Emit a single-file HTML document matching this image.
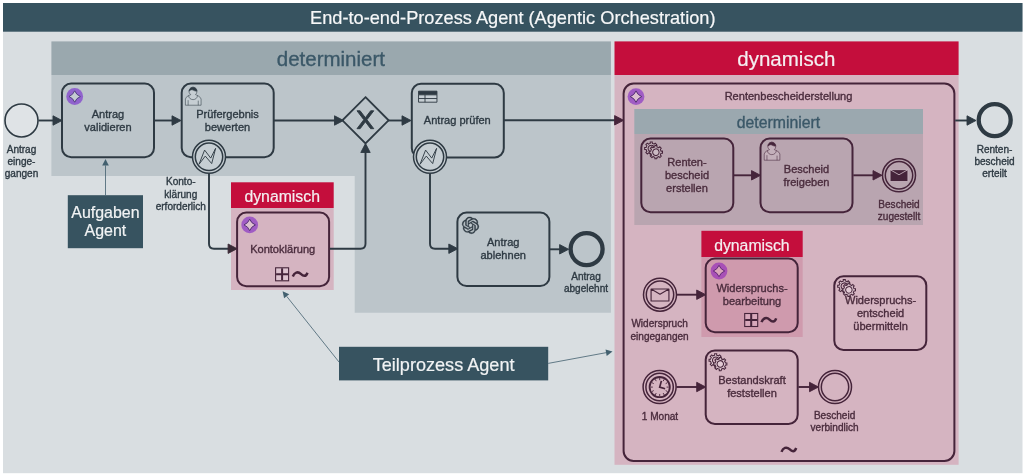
<!DOCTYPE html>
<html lang="de">
<head>
<meta charset="utf-8">
<title>End-to-end-Prozess Agent (Agentic Orchestration)</title>
<style>
html,body{margin:0;padding:0;background:#ffffff;}
body{width:1024px;height:474px;overflow:hidden;}
svg{display:block;will-change:transform;}
</style>
</head>
<body>
<svg width="1024" height="474" viewBox="0 0 1024 474" font-family="'Liberation Sans', sans-serif">
<rect x="0" y="0" width="1024" height="474" fill="#ffffff"/>
<rect x="3" y="3" width="1019.5" height="470.2" fill="#d9dee1"/>
<rect x="3" y="3" width="1019.5" height="28.7" fill="#375360"/>
<text x="512.8" y="23.8" font-size="18.2" fill="#f6f7f8" stroke="#f6f7f8" stroke-width="0.2" text-anchor="middle">End-to-end-Prozess Agent (Agentic Orchestration)</text>
<rect x="51.4" y="41.4" width="559.5" height="33.6" fill="#9aa8ae"/>
<path d="M51.4,75 H610.9 V312.7 H354.7 V176 H51.4 Z" fill="#bcc5ca"/>
<text x="330.9" y="65.7" font-size="20.5" fill="#3b5868" stroke="#3b5868" stroke-width="0.35" text-anchor="middle">determiniert</text>
<rect x="614.5" y="41.4" width="344.1" height="33.6" fill="#c40e3c"/>
<rect x="614.5" y="75" width="344.1" height="389.8" fill="#d5b4c1"/>
<text x="786.3" y="65.8" font-size="20.5" fill="#f4eff1" stroke="#f4eff1" stroke-width="0.2" text-anchor="middle">dynamisch</text>
<rect x="231" y="182.3" width="102.7" height="25.7" fill="#c40e3c"/>
<rect x="231" y="208" width="102.7" height="82" fill="#d5b4c1"/>
<text x="282.2" y="201.6" font-size="15.8" fill="#f4eff1" stroke="#f4eff1" stroke-width="0.2" text-anchor="middle">dynamisch</text>
<rect x="634.3" y="109" width="288.7" height="25" fill="#9ba8af"/>
<rect x="634.3" y="134" width="288.7" height="91" fill="#b9a5b0"/>
<text x="778.5" y="127.9" font-size="15.8" fill="#3b5868" stroke="#3b5868" stroke-width="0.35" text-anchor="middle">determiniert</text>
<rect x="701.4" y="230.8" width="101.3" height="26.2" fill="#c40e3c"/>
<rect x="701.4" y="257" width="101.3" height="80" fill="#cf9aad"/>
<text x="751.9" y="250.8" font-size="15.8" fill="#f4eff1" stroke="#f4eff1" stroke-width="0.2" text-anchor="middle">dynamisch</text>
<circle cx="21.5" cy="120.5" r="16.5" fill="#dfe3e6" stroke="#2e3a43" stroke-width="1.6"/>
<text x="21.5" y="153.218" font-size="10.05" fill="#2e3a43" stroke="#2e3a43" stroke-width="0.35" text-anchor="middle">Antrag</text>
<text x="21.5" y="165.418" font-size="10.05" fill="#2e3a43" stroke="#2e3a43" stroke-width="0.35" text-anchor="middle">einge-</text>
<text x="21.5" y="177.418" font-size="10.05" fill="#2e3a43" stroke="#2e3a43" stroke-width="0.35" text-anchor="middle">gangen</text>
<path d="M38.5,120.5 L53.9,120.5" fill="none" stroke="#2e3a43" stroke-width="1.9"/>
<path d="M62,120.5 L53,125.2 L53,115.8 Z" fill="#2e3a43" stroke="#2e3a43" stroke-width="0.9" stroke-linejoin="round"/>
<rect x="62" y="83.6" width="92" height="73.6" rx="9.2" fill="none" stroke="#2e3a43" stroke-width="2"/>
<circle cx="74.7" cy="96.5" r="8.4" fill="#9063cd"/>
<path d="M74.7,90.8 Q76.3,94.9 80.4,96.5 Q76.3,98.1 74.7,102.2 Q73.1,98.1 69,96.5 Q73.1,94.9 74.7,90.8 Z" fill="#c4cbd2" stroke="#4a3a78" stroke-width="0.9" stroke-linejoin="round"/>
<text x="108" y="117.678" font-size="11.05" fill="#2e3a43" stroke="#2e3a43" stroke-width="0.35" text-anchor="middle">Antrag</text>
<text x="108" y="130.678" font-size="11.05" fill="#2e3a43" stroke="#2e3a43" stroke-width="0.35" text-anchor="middle">validieren</text>
<path d="M154.6,120.5 L172.9,120.5" fill="none" stroke="#2e3a43" stroke-width="1.9"/>
<path d="M181,120.5 L172,125.2 L172,115.8 Z" fill="#2e3a43" stroke="#2e3a43" stroke-width="0.9" stroke-linejoin="round"/>
<rect x="181.7" y="83.6" width="92" height="73.6" rx="9.2" fill="none" stroke="#2e3a43" stroke-width="2"/>
<g transform="translate(181.7,83.6) scale(0.92)" stroke="#2e3a43" stroke-width="0.6" fill="#c6ced3"><path d="m 15,12 c 0.909,-0.845 1.594,-2.049 1.594,-3.385 0,-2.554 -1.805,-4.62199999 -4.357,-4.62199999 -2.55199998,0 -4.28799998,2.06799999 -4.28799998,4.62199999 0,1.348 0.974,2.562 1.89599998,3.405 -0.52899998,0.187 -5.669,2.097 -5.794,4.7560005 v 6.718 h 17 v -6.718 c 0,-2.2980005 -5.5279996,-4.5950005 -6.0509996,-4.7760005 zm -8,6 l 0,5.5 m 11,0 l 0,-5"/><path d="m 15,12 m 2.162,1.009 c 0,2.4470005 -2.158,4.4310005 -4.821,4.4310005 -2.66499998,0 -4.822,-1.981 -4.822,-4.4310005" fill="none"/><path d="m 15,12 m -6.9,-3.80 c 0,0 2.25099998,-2.358 4.27399998,-1.177 2.024,1.181 4.221,1.537 4.124,0.965 -0.098,-0.57 -0.117,-3.79099999 -4.191,-4.13599999 -3.57499998,0.001 -4.20799998,3.36699999 -4.20699998,4.34799999 z" fill="#2e3a43"/></g>
<text x="227.5" y="117.978" font-size="11.05" fill="#2e3a43" stroke="#2e3a43" stroke-width="0.35" text-anchor="middle">Prüfergebnis</text>
<text x="227.5" y="130.978" font-size="11.05" fill="#2e3a43" stroke="#2e3a43" stroke-width="0.35" text-anchor="middle">bewerten</text>
<circle cx="209" cy="156.8" r="16.5" fill="#c6ced3" stroke="#2e3a43" stroke-width="1.5"/>
<circle cx="209" cy="156.8" r="13.7" fill="#c6ced3" stroke="#2e3a43" stroke-width="1.5"/>
<path transform="translate(192.44,140.24) scale(0.92)" d="m 7.2,25.991999999999997 0.085,-0.023 6.672,-8.737 6.97,8.151 4.273,-16.564 -5.337,10.591 -6.636,-8.714 z" fill="#c6ced3" stroke="#2e3a43" stroke-width="1"/>
<text x="180.8" y="185.118" font-size="10.05" fill="#2e3a43" stroke="#2e3a43" stroke-width="0.35" text-anchor="middle">Konto-</text>
<text x="180.8" y="197.618" font-size="10.05" fill="#2e3a43" stroke="#2e3a43" stroke-width="0.35" text-anchor="middle">klärung</text>
<text x="180.8" y="209.818" font-size="10.05" fill="#2e3a43" stroke="#2e3a43" stroke-width="0.35" text-anchor="middle">erforderlich</text>
<path d="M273.8,120.5 L335.4,120.5" fill="none" stroke="#2e3a43" stroke-width="1.9"/>
<path d="M343.5,120.5 L334.5,125.2 L334.5,115.8 Z" fill="#2e3a43" stroke="#2e3a43" stroke-width="0.9" stroke-linejoin="round"/>
<path d="M209,173.5 L209,243.7 Q209,248.7 214,248.7 L229,248.7" fill="none" stroke="#2e3a43" stroke-width="1.9"/>
<path d="M237.1,248.7 L228.1,253.4 L228.1,244 Z" fill="#3a2a36" stroke="#3a2a36" stroke-width="0.9" stroke-linejoin="round"/>
<path d="M365.5,97.2 L388.6,120.3 L365.5,143.4 L342.4,120.3 Z" fill="none" stroke="#2e3a43" stroke-width="1.86" stroke-linejoin="miter"/>
<path transform="translate(342.25,97) scale(0.92)" d="m 16,15 7.43,9.71 -7.43,9.71 3.43,0 5.71,-7.46 5.71,7.46 3.43,0 -7.43,-9.71 7.43,-9.71 -3.43,0 -5.71,7.46 -5.71,-7.46 -3.43,0 z" fill="#2e3a43" stroke="#2e3a43" stroke-width="1"/>
<path d="M388,120.5 L402.9,120.5" fill="none" stroke="#2e3a43" stroke-width="1.9"/>
<path d="M411,120.5 L402,125.2 L402,115.8 Z" fill="#2e3a43" stroke="#2e3a43" stroke-width="0.9" stroke-linejoin="round"/>
<rect x="411.8" y="83.8" width="92" height="73.6" rx="9.2" fill="none" stroke="#2e3a43" stroke-width="2"/>
<g transform="translate(411.2,83.8) scale(0.92)" stroke="#2e3a43" stroke-width="1"><path d="m 8,8 0,4 20,0 0,-4 z" fill="#2e3a43"/><path d="m 8,12 0,8 20,0 0,-8 z m 0,4 l 20,0 m -13,-4 l 0,8" fill="#c6ced3"/></g>
<text x="457.3" y="124.278" font-size="11.05" fill="#2e3a43" stroke="#2e3a43" stroke-width="0.35" text-anchor="middle">Antrag prüfen</text>
<circle cx="430" cy="156.8" r="16.5" fill="#c6ced3" stroke="#2e3a43" stroke-width="1.5"/>
<circle cx="430" cy="156.8" r="13.7" fill="#c6ced3" stroke="#2e3a43" stroke-width="1.5"/>
<path transform="translate(413.44,140.24) scale(0.92)" d="m 7.2,25.991999999999997 0.085,-0.023 6.672,-8.737 6.97,8.151 4.273,-16.564 -5.337,10.591 -6.636,-8.714 z" fill="#c6ced3" stroke="#2e3a43" stroke-width="1"/>
<path d="M430,173.5 L430,243.7 Q430,248.7 435,248.7 L449.7,248.7" fill="none" stroke="#2e3a43" stroke-width="1.9"/>
<path d="M457.8,248.7 L448.8,253.4 L448.8,244 Z" fill="#2e3a43" stroke="#2e3a43" stroke-width="0.9" stroke-linejoin="round"/>
<path d="M504,120.3 L615.5,120.3" fill="none" stroke="#2e3a43" stroke-width="1.9"/>
<path d="M623.6,120.3 L614.6,125 L614.6,115.6 Z" fill="#45243a" stroke="#45243a" stroke-width="0.9" stroke-linejoin="round"/>
<rect x="457.4" y="212.5" width="92" height="73.6" rx="9.2" fill="none" stroke="#2e3a43" stroke-width="2"/>
<path transform="translate(462.1,216.9) scale(0.7)" d="M22.2819 9.8211a5.9847 5.9847 0 0 0-.5157-4.9108 6.0462 6.0462 0 0 0-6.5098-2.9A6.0651 6.0651 0 0 0 4.9807 4.1818a5.9847 5.9847 0 0 0-3.9977 2.9 6.0462 6.0462 0 0 0 .7427 7.0966 5.98 5.98 0 0 0 .511 4.9107 6.051 6.051 0 0 0 6.5146 2.9001A5.9847 5.9847 0 0 0 13.2599 24a6.0557 6.0557 0 0 0 5.7718-4.2058 5.9894 5.9894 0 0 0 3.9977-2.9001 6.0557 6.0557 0 0 0-.7475-7.0729zm-9.022 12.6081a4.4755 4.4755 0 0 1-2.8764-1.0408l.1419-.0804 4.7783-2.7582a.7948.7948 0 0 0 .3927-.6813v-6.7369l2.02 1.1686a.071.071 0 0 1 .038.052v5.5826a4.504 4.504 0 0 1-4.4945 4.4944zm-9.6607-4.1254a4.4708 4.4708 0 0 1-.5346-3.0137l.142.0852 4.783 2.7582a.7712.7712 0 0 0 .7806 0l5.8428-3.3685v2.3324a.0804.0804 0 0 1-.0332.0615L9.74 19.9502a4.4992 4.4992 0 0 1-6.1408-1.6464zM2.3408 7.8956a4.485 4.485 0 0 1 2.3655-1.9728V11.6a.7664.7664 0 0 0 .3879.6765l5.8144 3.3543-2.0201 1.1685a.0757.0757 0 0 1-.071 0l-4.8303-2.7865A4.504 4.504 0 0 1 2.3408 7.872zm16.5963 3.8558L13.1038 8.364 15.1192 7.2a.0757.0757 0 0 1 .071 0l4.8303 2.7913a4.4944 4.4944 0 0 1-.6765 8.1042v-5.6772a.79.79 0 0 0-.407-.667zm2.0107-3.0231l-.142-.0852-4.7735-2.7818a.7759.7759 0 0 0-.7854 0L9.409 9.2297V6.8974a.0662.0662 0 0 1 .0284-.0615l4.8303-2.7866a4.4992 4.4992 0 0 1 6.6802 4.66zM8.3065 12.863l-2.02-1.1638a.0804.0804 0 0 1-.038-.0567V6.0742a4.4992 4.4992 0 0 1 7.3757-3.4537l-.142.0805L8.704 5.459a.7948.7948 0 0 0-.3927.6813zm1.0976-2.3654l2.602-1.4998 2.6069 1.4998v2.9994l-2.5974 1.4997-2.6067-1.4997Z" fill="#2e3a43" stroke="#2e3a43" stroke-width="0.5"/>
<text x="503.2" y="245.978" font-size="11.05" fill="#2e3a43" stroke="#2e3a43" stroke-width="0.35" text-anchor="middle">Antrag</text>
<text x="503.2" y="258.978" font-size="11.05" fill="#2e3a43" stroke="#2e3a43" stroke-width="0.35" text-anchor="middle">ablehnen</text>
<path d="M549.4,249.3 L560.5,249.3" fill="none" stroke="#2e3a43" stroke-width="1.9"/>
<path d="M568.6,249.3 L559.6,254 L559.6,244.6 Z" fill="#2e3a43" stroke="#2e3a43" stroke-width="0.9" stroke-linejoin="round"/>
<circle cx="586.6" cy="249.1" r="16" fill="none" stroke="#2e3a43" stroke-width="4.3"/>
<text x="586" y="279.618" font-size="10.05" fill="#2e3a43" stroke="#2e3a43" stroke-width="0.35" text-anchor="middle">Antrag</text>
<text x="586" y="292.018" font-size="10.05" fill="#2e3a43" stroke="#2e3a43" stroke-width="0.35" text-anchor="middle">abgelehnt</text>
<rect x="237.1" y="212.6" width="92" height="73.6" rx="9.2" fill="none" stroke="#45243a" stroke-width="2"/>
<circle cx="249.7" cy="224.9" r="8.4" fill="#a05cc4"/>
<path d="M249.7,219.2 Q251.3,223.3 255.4,224.9 Q251.3,226.5 249.7,230.6 Q248.1,226.5 244,224.9 Q248.1,223.3 249.7,219.2 Z" fill="#dcc0d0" stroke="#4a2a6a" stroke-width="0.9" stroke-linejoin="round"/>
<text x="282.7" y="252.678" font-size="11.05" fill="#4a2c3d" stroke="#4a2c3d" stroke-width="0.35" text-anchor="middle">Kontoklärung</text>
<rect x="275.6" y="267.8" width="13" height="13" fill="#dcc2ce" stroke="#45243a" stroke-width="1.1"/>
<path d="M282.1,268.3 V280.3 M276.1,274.3 H288.1" stroke="#45243a" stroke-width="2" fill="none"/>
<path transform="translate(292.6,274.3)" d="M0.2,2.2 C1.7,-2 5.2,-3.2 8.2,-0.4 C10.7,2 13.2,2.8 14.9,-1.6" fill="none" stroke="#45243a" stroke-width="2.5"/>
<path d="M329.8,248.7 L360.5,248.7 Q365.5,248.7 365.5,243.7 L365.5,151.6" fill="none" stroke="#2e3a43" stroke-width="1.9"/>
<path d="M365.5,143.5 L370.2,152.5 L360.8,152.5 Z" fill="#2e3a43" stroke="#2e3a43" stroke-width="0.9" stroke-linejoin="round"/>
<rect x="67.8" y="195.2" width="75.2" height="53" fill="#375360"/>
<text x="105.4" y="218.142" font-size="15.95" fill="#f1f3f4" stroke="#f1f3f4" stroke-width="0.2" text-anchor="middle">Aufgaben</text>
<text x="105.4" y="236.442" font-size="15.95" fill="#f1f3f4" stroke="#f1f3f4" stroke-width="0.2" text-anchor="middle">Agent</text>
<path d="M105.5,195.2 L105.5,165.4" fill="none" stroke="#42606f" stroke-width="0.8"/>
<path d="M105.5,158.9 L108.8,165.4 L102.2,165.4 Z" fill="#42606f"/>
<rect x="339" y="346.8" width="209.2" height="33.6" fill="#375360"/>
<text x="443.6" y="370.516" font-size="18.1" fill="#f1f3f4" stroke="#f1f3f4" stroke-width="0.2" text-anchor="middle">Teilprozess Agent</text>
<path d="M339,362 L286.65,296.284" fill="none" stroke="#42606f" stroke-width="0.8"/>
<path d="M282.6,291.2 L289.231,294.228 L284.069,298.34 Z" fill="#42606f"/>
<path d="M548.2,363.4 L606.109,352.683" fill="none" stroke="#42606f" stroke-width="0.8"/>
<path d="M612.5,351.5 L606.709,355.928 L605.508,349.438 Z" fill="#42606f"/>
<rect x="623.6" y="83.6" width="330.8" height="377.3" rx="10" fill="none" stroke="#45243a" stroke-width="2"/>
<circle cx="636" cy="96.6" r="8.4" fill="#a05cc4"/>
<path d="M636,90.9 Q637.6,95 641.7,96.6 Q637.6,98.2 636,102.3 Q634.4,98.2 630.3,96.6 Q634.4,95 636,90.9 Z" fill="#dcc0d0" stroke="#4a2a6a" stroke-width="0.9" stroke-linejoin="round"/>
<text x="788.5" y="100.378" font-size="11.05" fill="#4a2c3d" stroke="#4a2c3d" stroke-width="0.35" text-anchor="middle">Rentenbescheiderstellung</text>
<path d="M955.2,120.5 L967.9,120.5" fill="none" stroke="#2e3a43" stroke-width="1.9"/>
<path d="M976,120.5 L967,125.2 L967,115.8 Z" fill="#2e3a43" stroke="#2e3a43" stroke-width="0.9" stroke-linejoin="round"/>
<circle cx="994.7" cy="120.1" r="16" fill="none" stroke="#2e3a43" stroke-width="4.3"/>
<text x="994.5" y="153.218" font-size="10.05" fill="#2e3a43" stroke="#2e3a43" stroke-width="0.35" text-anchor="middle">Renten-</text>
<text x="994.5" y="165.118" font-size="10.05" fill="#2e3a43" stroke="#2e3a43" stroke-width="0.35" text-anchor="middle">bescheid</text>
<text x="994.5" y="177.318" font-size="10.05" fill="#2e3a43" stroke="#2e3a43" stroke-width="0.35" text-anchor="middle">erteilt</text>
<rect x="641.3" y="138.6" width="92" height="73.6" rx="9.2" fill="none" stroke="#45243a" stroke-width="2"/>
<g transform="translate(641.3,138.6) scale(0.92)" stroke="#45243a" stroke-width="1.1" fill="#cbbac3"><path d="m 12,18 v -1.71335 c 0.352326,-0.0705 0.703932,-0.17838 1.047628,-0.32133 0.344416,-0.14465 0.665822,-0.32133 0.966377,-0.52145 l 1.19431,1.18005 1.567487,-1.57688 -1.195028,-1.18014 c 0.403376,-0.61394 0.683079,-1.29908 0.825447,-2.01824 l 1.622133,-0.01 v -2.2196 l -1.636514,0.01 c -0.07333,-0.35153 -0.178319,-0.70024 -0.323564,-1.04372 -0.145244,-0.34406 -0.321407,-0.6644 -0.522735,-0.96217 l 1.131035,-1.13631 -1.583305,-1.56293 -1.129598,1.13589 c -0.614052,-0.40108 -1.302883,-0.68093 -2.022633,-0.82247 l 0.0093,-1.61852 h -2.241173 l 0.0042,1.63124 c -0.353763,0.0736 -0.705369,0.17977 -1.049785,0.32371 -0.344415,0.14437 -0.665102,0.32092 -0.9635006,0.52046 l -1.1698628,-1.15823 -1.5667691,1.5792 1.1684265,1.15669 c -0.4026573,0.61283 -0.68308,1.29797 -0.8247287,2.01713 l -1.6588041,0.003 v 2.22174 l 1.6724648,-0.006 c 0.073327,0.35077 0.1797598,0.70243 0.3242851,1.04472 0.1452428,0.34448 0.3214064,0.6644 0.5227339,0.96066 l -1.1993431,1.19723 1.5840256,1.56011 1.1964668,-1.19348 c 0.6140517,0.40346 1.3028827,0.68232 2.0233517,0.82331 l 7.19e-4,1.69892 h 2.226848 z m 0.221462,-3.9957 c -1.788948,0.7502 -3.8576,-0.0928 -4.6097055,-1.87438 -0.7521065,-1.78321 0.090598,-3.84627 1.8802645,-4.59604 1.78823,-0.74936 3.856881,0.0929 4.608987,1.87437 0.752106,1.78165 -0.0906,3.84612 -1.879546,4.59605 z" fill-rule="nonzero"/><path d="m 17.2,18 c -1.788948,0.7502 -3.8576,-0.0928 -4.6097055,-1.87438 -0.7521065,-1.78321 0.090598,-3.84627 1.8802645,-4.59604 1.78823,-0.74936 3.856881,0.0929 4.608987,1.87437 0.752106,1.78165 -0.0906,3.84612 -1.879546,4.59605 z" stroke="none"/><path d="m 17,22 v -1.71335 c 0.352326,-0.0705 0.703932,-0.17838 1.047628,-0.32133 0.344416,-0.14465 0.665822,-0.32133 0.966377,-0.52145 l 1.19431,1.18005 1.567487,-1.57688 -1.195028,-1.18014 c 0.403376,-0.61394 0.683079,-1.29908 0.825447,-2.01824 l 1.622133,-0.01 v -2.2196 l -1.636514,0.01 c -0.07333,-0.35153 -0.178319,-0.70024 -0.323564,-1.04372 -0.145244,-0.34406 -0.321407,-0.6644 -0.522735,-0.96217 l 1.131035,-1.13631 -1.583305,-1.56293 -1.129598,1.13589 c -0.614052,-0.40108 -1.302883,-0.68093 -2.022633,-0.82247 l 0.0093,-1.61852 h -2.241173 l 0.0042,1.63124 c -0.353763,0.0736 -0.705369,0.17977 -1.049785,0.32371 -0.344415,0.14437 -0.665102,0.32092 -0.9635006,0.52046 l -1.1698628,-1.15823 -1.5667691,1.5792 1.1684265,1.15669 c -0.4026573,0.61283 -0.68308,1.29797 -0.8247287,2.01713 l -1.6588041,0.003 v 2.22174 l 1.6724648,-0.006 c 0.073327,0.35077 0.1797598,0.70243 0.3242851,1.04472 0.1452428,0.34448 0.3214064,0.6644 0.5227339,0.96066 l -1.1993431,1.19723 1.5840256,1.56011 1.1964668,-1.19348 c 0.6140517,0.40346 1.3028827,0.68232 2.0233517,0.82331 l 7.19e-4,1.69892 h 2.226848 z m 0.221462,-3.9957 c -1.788948,0.7502 -3.8576,-0.0928 -4.6097055,-1.87438 -0.7521065,-1.78321 0.090598,-3.84627 1.8802645,-4.59604 1.78823,-0.74936 3.856881,0.0929 4.608987,1.87437 0.752106,1.78165 -0.0906,3.84612 -1.879546,4.59605 z"/></g>
<text x="687" y="166.278" font-size="11.05" fill="#4a2c3d" stroke="#4a2c3d" stroke-width="0.35" text-anchor="middle">Renten-</text>
<text x="687" y="179.278" font-size="11.05" fill="#4a2c3d" stroke="#4a2c3d" stroke-width="0.35" text-anchor="middle">bescheid</text>
<text x="687" y="192.278" font-size="11.05" fill="#4a2c3d" stroke="#4a2c3d" stroke-width="0.35" text-anchor="middle">erstellen</text>
<path d="M734,175.3 L752.4,175.3" fill="none" stroke="#45243a" stroke-width="1.9"/>
<path d="M760.5,175.3 L751.5,180 L751.5,170.6 Z" fill="#45243a" stroke="#45243a" stroke-width="0.9" stroke-linejoin="round"/>
<rect x="760.5" y="138.6" width="92" height="73.6" rx="9.2" fill="none" stroke="#45243a" stroke-width="2"/>
<g transform="translate(760.5,138.6) scale(0.92)" stroke="#45243a" stroke-width="0.6" fill="#c4b0bb"><path d="m 15,12 c 0.909,-0.845 1.594,-2.049 1.594,-3.385 0,-2.554 -1.805,-4.62199999 -4.357,-4.62199999 -2.55199998,0 -4.28799998,2.06799999 -4.28799998,4.62199999 0,1.348 0.974,2.562 1.89599998,3.405 -0.52899998,0.187 -5.669,2.097 -5.794,4.7560005 v 6.718 h 17 v -6.718 c 0,-2.2980005 -5.5279996,-4.5950005 -6.0509996,-4.7760005 zm -8,6 l 0,5.5 m 11,0 l 0,-5"/><path d="m 15,12 m 2.162,1.009 c 0,2.4470005 -2.158,4.4310005 -4.821,4.4310005 -2.66499998,0 -4.822,-1.981 -4.822,-4.4310005" fill="none"/><path d="m 15,12 m -6.9,-3.80 c 0,0 2.25099998,-2.358 4.27399998,-1.177 2.024,1.181 4.221,1.537 4.124,0.965 -0.098,-0.57 -0.117,-3.79099999 -4.191,-4.13599999 -3.57499998,0.001 -4.20799998,3.36699999 -4.20699998,4.34799999 z" fill="#45243a"/></g>
<text x="806.5" y="172.678" font-size="11.05" fill="#4a2c3d" stroke="#4a2c3d" stroke-width="0.35" text-anchor="middle">Bescheid</text>
<text x="806.5" y="185.578" font-size="11.05" fill="#4a2c3d" stroke="#4a2c3d" stroke-width="0.35" text-anchor="middle">freigeben</text>
<path d="M853.3,175.3 L873.9,175.3" fill="none" stroke="#45243a" stroke-width="1.9"/>
<path d="M882,175.3 L873,180 L873,170.6 Z" fill="#45243a" stroke="#45243a" stroke-width="0.9" stroke-linejoin="round"/>
<circle cx="899" cy="175.3" r="16.5" fill="#b9a5b0" stroke="#45243a" stroke-width="1.5"/>
<circle cx="899" cy="175.3" r="13.7" fill="#b9a5b0" stroke="#45243a" stroke-width="1.5"/>
<path transform="translate(899,175.6) scale(0.85)" d="m -10.5,-7 l 0,14 l 21,0 l 0,-14 z l 10.5,6 l 10.5,-6" fill="#45243a" stroke="#c9b6c0" stroke-width="1" stroke-linejoin="round"/>
<text x="899" y="207.918" font-size="10.05" fill="#4a2c3d" stroke="#4a2c3d" stroke-width="0.35" text-anchor="middle">Bescheid</text>
<text x="899" y="220.418" font-size="10.05" fill="#4a2c3d" stroke="#4a2c3d" stroke-width="0.35" text-anchor="middle">zugestellt</text>
<circle cx="660" cy="294.7" r="16.5" fill="#d5b4c1" stroke="#45243a" stroke-width="1.5"/>
<circle cx="660" cy="294.7" r="13.7" fill="#d5b4c1" stroke="#45243a" stroke-width="1.5"/>
<path transform="translate(660,295) scale(0.85)" d="m -10.5,-7 l 0,14 l 21,0 l 0,-14 z l 10.5,6 l 10.5,-6" fill="#d5b4c1" stroke="#45243a" stroke-width="1.35" stroke-linejoin="round"/>
<text x="659.6" y="327.418" font-size="10.05" fill="#4a2c3d" stroke="#4a2c3d" stroke-width="0.35" text-anchor="middle">Widerspruch</text>
<text x="659.6" y="340.118" font-size="10.05" fill="#4a2c3d" stroke="#4a2c3d" stroke-width="0.35" text-anchor="middle">eingegangen</text>
<path d="M677,294.7 L697.6,294.7" fill="none" stroke="#45243a" stroke-width="1.9"/>
<path d="M705.7,294.7 L696.7,299.4 L696.7,290 Z" fill="#45243a" stroke="#45243a" stroke-width="0.9" stroke-linejoin="round"/>
<rect x="705.7" y="258.6" width="92" height="73.6" rx="9.2" fill="none" stroke="#45243a" stroke-width="2"/>
<circle cx="719" cy="271" r="8.4" fill="#a850b6"/>
<path d="M719,265.3 Q720.6,269.4 724.7,271 Q720.6,272.6 719,276.7 Q717.4,272.6 713.3,271 Q717.4,269.4 719,265.3 Z" fill="#d9a5ba" stroke="#5a2470" stroke-width="0.9" stroke-linejoin="round"/>
<text x="752" y="291.978" font-size="11.05" fill="#4a2c3d" stroke="#4a2c3d" stroke-width="0.35" text-anchor="middle">Widerspruchs-</text>
<text x="752" y="305.278" font-size="11.05" fill="#4a2c3d" stroke="#4a2c3d" stroke-width="0.35" text-anchor="middle">bearbeitung</text>
<rect x="744.7" y="313.5" width="13" height="13" fill="#d8a8bb" stroke="#45243a" stroke-width="1.1"/>
<path d="M751.2,314 V326 M745.2,320 H757.2" stroke="#45243a" stroke-width="2" fill="none"/>
<path transform="translate(761.3,320)" d="M0.2,2.2 C1.7,-2 5.2,-3.2 8.2,-0.4 C10.7,2 13.2,2.8 14.9,-1.6" fill="none" stroke="#45243a" stroke-width="2.5"/>
<rect x="834.3" y="276.3" width="92" height="73.6" rx="9.2" fill="none" stroke="#45243a" stroke-width="2"/>
<g transform="translate(834.3,276.3) scale(0.92)" stroke="#45243a" stroke-width="1.1" fill="#e2cad4"><path d="m 12,18 v -1.71335 c 0.352326,-0.0705 0.703932,-0.17838 1.047628,-0.32133 0.344416,-0.14465 0.665822,-0.32133 0.966377,-0.52145 l 1.19431,1.18005 1.567487,-1.57688 -1.195028,-1.18014 c 0.403376,-0.61394 0.683079,-1.29908 0.825447,-2.01824 l 1.622133,-0.01 v -2.2196 l -1.636514,0.01 c -0.07333,-0.35153 -0.178319,-0.70024 -0.323564,-1.04372 -0.145244,-0.34406 -0.321407,-0.6644 -0.522735,-0.96217 l 1.131035,-1.13631 -1.583305,-1.56293 -1.129598,1.13589 c -0.614052,-0.40108 -1.302883,-0.68093 -2.022633,-0.82247 l 0.0093,-1.61852 h -2.241173 l 0.0042,1.63124 c -0.353763,0.0736 -0.705369,0.17977 -1.049785,0.32371 -0.344415,0.14437 -0.665102,0.32092 -0.9635006,0.52046 l -1.1698628,-1.15823 -1.5667691,1.5792 1.1684265,1.15669 c -0.4026573,0.61283 -0.68308,1.29797 -0.8247287,2.01713 l -1.6588041,0.003 v 2.22174 l 1.6724648,-0.006 c 0.073327,0.35077 0.1797598,0.70243 0.3242851,1.04472 0.1452428,0.34448 0.3214064,0.6644 0.5227339,0.96066 l -1.1993431,1.19723 1.5840256,1.56011 1.1964668,-1.19348 c 0.6140517,0.40346 1.3028827,0.68232 2.0233517,0.82331 l 7.19e-4,1.69892 h 2.226848 z m 0.221462,-3.9957 c -1.788948,0.7502 -3.8576,-0.0928 -4.6097055,-1.87438 -0.7521065,-1.78321 0.090598,-3.84627 1.8802645,-4.59604 1.78823,-0.74936 3.856881,0.0929 4.608987,1.87437 0.752106,1.78165 -0.0906,3.84612 -1.879546,4.59605 z" fill-rule="nonzero"/><path d="m 17.2,18 c -1.788948,0.7502 -3.8576,-0.0928 -4.6097055,-1.87438 -0.7521065,-1.78321 0.090598,-3.84627 1.8802645,-4.59604 1.78823,-0.74936 3.856881,0.0929 4.608987,1.87437 0.752106,1.78165 -0.0906,3.84612 -1.879546,4.59605 z" stroke="none"/><path d="m 17,22 v -1.71335 c 0.352326,-0.0705 0.703932,-0.17838 1.047628,-0.32133 0.344416,-0.14465 0.665822,-0.32133 0.966377,-0.52145 l 1.19431,1.18005 1.567487,-1.57688 -1.195028,-1.18014 c 0.403376,-0.61394 0.683079,-1.29908 0.825447,-2.01824 l 1.622133,-0.01 v -2.2196 l -1.636514,0.01 c -0.07333,-0.35153 -0.178319,-0.70024 -0.323564,-1.04372 -0.145244,-0.34406 -0.321407,-0.6644 -0.522735,-0.96217 l 1.131035,-1.13631 -1.583305,-1.56293 -1.129598,1.13589 c -0.614052,-0.40108 -1.302883,-0.68093 -2.022633,-0.82247 l 0.0093,-1.61852 h -2.241173 l 0.0042,1.63124 c -0.353763,0.0736 -0.705369,0.17977 -1.049785,0.32371 -0.344415,0.14437 -0.665102,0.32092 -0.9635006,0.52046 l -1.1698628,-1.15823 -1.5667691,1.5792 1.1684265,1.15669 c -0.4026573,0.61283 -0.68308,1.29797 -0.8247287,2.01713 l -1.6588041,0.003 v 2.22174 l 1.6724648,-0.006 c 0.073327,0.35077 0.1797598,0.70243 0.3242851,1.04472 0.1452428,0.34448 0.3214064,0.6644 0.5227339,0.96066 l -1.1993431,1.19723 1.5840256,1.56011 1.1964668,-1.19348 c 0.6140517,0.40346 1.3028827,0.68232 2.0233517,0.82331 l 7.19e-4,1.69892 h 2.226848 z m 0.221462,-3.9957 c -1.788948,0.7502 -3.8576,-0.0928 -4.6097055,-1.87438 -0.7521065,-1.78321 0.090598,-3.84627 1.8802645,-4.59604 1.78823,-0.74936 3.856881,0.0929 4.608987,1.87437 0.752106,1.78165 -0.0906,3.84612 -1.879546,4.59605 z"/></g>
<text x="880.6" y="303.978" font-size="11.05" fill="#4a2c3d" stroke="#4a2c3d" stroke-width="0.35" text-anchor="middle">Widerspruchs-</text>
<text x="880.6" y="317.178" font-size="11.05" fill="#4a2c3d" stroke="#4a2c3d" stroke-width="0.35" text-anchor="middle">entscheid</text>
<text x="880.6" y="330.378" font-size="11.05" fill="#4a2c3d" stroke="#4a2c3d" stroke-width="0.35" text-anchor="middle">übermitteln</text>
<circle cx="659.6" cy="387" r="16.5" fill="#d5b4c1" stroke="#45243a" stroke-width="1.5"/>
<circle cx="659.6" cy="387" r="13.7" fill="#d5b4c1" stroke="#45243a" stroke-width="1.5"/>
<circle cx="659.7" cy="387.1" r="10.12" fill="#d5b4c1" stroke="#45243a" stroke-width="1.8"/>
<path d="M666.58,387.10 L668.81,387.10" stroke="#45243a" stroke-width="0.9" fill="none"/>
<path d="M665.66,390.54 L667.59,391.65" stroke="#45243a" stroke-width="0.9" fill="none"/>
<path d="M663.14,393.06 L664.25,394.99" stroke="#45243a" stroke-width="0.9" fill="none"/>
<path d="M659.70,393.98 L659.70,396.21" stroke="#45243a" stroke-width="0.9" fill="none"/>
<path d="M656.26,393.06 L655.15,394.99" stroke="#45243a" stroke-width="0.9" fill="none"/>
<path d="M653.74,390.54 L651.81,391.65" stroke="#45243a" stroke-width="0.9" fill="none"/>
<path d="M652.82,387.10 L650.59,387.10" stroke="#45243a" stroke-width="0.9" fill="none"/>
<path d="M653.74,383.66 L651.81,382.55" stroke="#45243a" stroke-width="0.9" fill="none"/>
<path d="M656.26,381.14 L655.15,379.21" stroke="#45243a" stroke-width="0.9" fill="none"/>
<path d="M659.70,380.22 L659.70,377.99" stroke="#45243a" stroke-width="0.9" fill="none"/>
<path d="M663.14,381.14 L664.25,379.21" stroke="#45243a" stroke-width="0.9" fill="none"/>
<path d="M665.66,383.66 L667.59,382.55" stroke="#45243a" stroke-width="0.9" fill="none"/>
<path d="M661.4,380.9 L659.7,387.1 L665.1,388.7" stroke="#45243a" stroke-width="1.7" fill="none" stroke-linecap="butt" stroke-linejoin="miter"/>
<text x="660" y="419.618" font-size="10.05" fill="#4a2c3d" stroke="#4a2c3d" stroke-width="0.35" text-anchor="middle">1 Monat</text>
<path d="M676.5,387 L697.6,387" fill="none" stroke="#45243a" stroke-width="1.9"/>
<path d="M705.7,387 L696.7,391.7 L696.7,382.3 Z" fill="#45243a" stroke="#45243a" stroke-width="0.9" stroke-linejoin="round"/>
<rect x="705.7" y="350.4" width="92" height="73.6" rx="9.2" fill="none" stroke="#45243a" stroke-width="2"/>
<g transform="translate(705.7,350.4) scale(0.92)" stroke="#45243a" stroke-width="1.1" fill="#e2cad4"><path d="m 12,18 v -1.71335 c 0.352326,-0.0705 0.703932,-0.17838 1.047628,-0.32133 0.344416,-0.14465 0.665822,-0.32133 0.966377,-0.52145 l 1.19431,1.18005 1.567487,-1.57688 -1.195028,-1.18014 c 0.403376,-0.61394 0.683079,-1.29908 0.825447,-2.01824 l 1.622133,-0.01 v -2.2196 l -1.636514,0.01 c -0.07333,-0.35153 -0.178319,-0.70024 -0.323564,-1.04372 -0.145244,-0.34406 -0.321407,-0.6644 -0.522735,-0.96217 l 1.131035,-1.13631 -1.583305,-1.56293 -1.129598,1.13589 c -0.614052,-0.40108 -1.302883,-0.68093 -2.022633,-0.82247 l 0.0093,-1.61852 h -2.241173 l 0.0042,1.63124 c -0.353763,0.0736 -0.705369,0.17977 -1.049785,0.32371 -0.344415,0.14437 -0.665102,0.32092 -0.9635006,0.52046 l -1.1698628,-1.15823 -1.5667691,1.5792 1.1684265,1.15669 c -0.4026573,0.61283 -0.68308,1.29797 -0.8247287,2.01713 l -1.6588041,0.003 v 2.22174 l 1.6724648,-0.006 c 0.073327,0.35077 0.1797598,0.70243 0.3242851,1.04472 0.1452428,0.34448 0.3214064,0.6644 0.5227339,0.96066 l -1.1993431,1.19723 1.5840256,1.56011 1.1964668,-1.19348 c 0.6140517,0.40346 1.3028827,0.68232 2.0233517,0.82331 l 7.19e-4,1.69892 h 2.226848 z m 0.221462,-3.9957 c -1.788948,0.7502 -3.8576,-0.0928 -4.6097055,-1.87438 -0.7521065,-1.78321 0.090598,-3.84627 1.8802645,-4.59604 1.78823,-0.74936 3.856881,0.0929 4.608987,1.87437 0.752106,1.78165 -0.0906,3.84612 -1.879546,4.59605 z" fill-rule="nonzero"/><path d="m 17.2,18 c -1.788948,0.7502 -3.8576,-0.0928 -4.6097055,-1.87438 -0.7521065,-1.78321 0.090598,-3.84627 1.8802645,-4.59604 1.78823,-0.74936 3.856881,0.0929 4.608987,1.87437 0.752106,1.78165 -0.0906,3.84612 -1.879546,4.59605 z" stroke="none"/><path d="m 17,22 v -1.71335 c 0.352326,-0.0705 0.703932,-0.17838 1.047628,-0.32133 0.344416,-0.14465 0.665822,-0.32133 0.966377,-0.52145 l 1.19431,1.18005 1.567487,-1.57688 -1.195028,-1.18014 c 0.403376,-0.61394 0.683079,-1.29908 0.825447,-2.01824 l 1.622133,-0.01 v -2.2196 l -1.636514,0.01 c -0.07333,-0.35153 -0.178319,-0.70024 -0.323564,-1.04372 -0.145244,-0.34406 -0.321407,-0.6644 -0.522735,-0.96217 l 1.131035,-1.13631 -1.583305,-1.56293 -1.129598,1.13589 c -0.614052,-0.40108 -1.302883,-0.68093 -2.022633,-0.82247 l 0.0093,-1.61852 h -2.241173 l 0.0042,1.63124 c -0.353763,0.0736 -0.705369,0.17977 -1.049785,0.32371 -0.344415,0.14437 -0.665102,0.32092 -0.9635006,0.52046 l -1.1698628,-1.15823 -1.5667691,1.5792 1.1684265,1.15669 c -0.4026573,0.61283 -0.68308,1.29797 -0.8247287,2.01713 l -1.6588041,0.003 v 2.22174 l 1.6724648,-0.006 c 0.073327,0.35077 0.1797598,0.70243 0.3242851,1.04472 0.1452428,0.34448 0.3214064,0.6644 0.5227339,0.96066 l -1.1993431,1.19723 1.5840256,1.56011 1.1964668,-1.19348 c 0.6140517,0.40346 1.3028827,0.68232 2.0233517,0.82331 l 7.19e-4,1.69892 h 2.226848 z m 0.221462,-3.9957 c -1.788948,0.7502 -3.8576,-0.0928 -4.6097055,-1.87438 -0.7521065,-1.78321 0.090598,-3.84627 1.8802645,-4.59604 1.78823,-0.74936 3.856881,0.0929 4.608987,1.87437 0.752106,1.78165 -0.0906,3.84612 -1.879546,4.59605 z"/></g>
<text x="752" y="383.778" font-size="11.05" fill="#4a2c3d" stroke="#4a2c3d" stroke-width="0.35" text-anchor="middle">Bestandskraft</text>
<text x="752" y="397.078" font-size="11.05" fill="#4a2c3d" stroke="#4a2c3d" stroke-width="0.35" text-anchor="middle">feststellen</text>
<path d="M798.4,387 L810.4,387" fill="none" stroke="#45243a" stroke-width="1.9"/>
<path d="M818.5,387 L809.5,391.7 L809.5,382.3 Z" fill="#45243a" stroke="#45243a" stroke-width="0.9" stroke-linejoin="round"/>
<circle cx="835" cy="387" r="16.5" fill="#d5b4c1" stroke="#45243a" stroke-width="1.5"/>
<circle cx="835" cy="387" r="13.7" fill="#d5b4c1" stroke="#45243a" stroke-width="1.5"/>
<text x="834.6" y="419.118" font-size="10.05" fill="#4a2c3d" stroke="#4a2c3d" stroke-width="0.35" text-anchor="middle">Bescheid</text>
<text x="834.6" y="431.418" font-size="10.05" fill="#4a2c3d" stroke="#4a2c3d" stroke-width="0.35" text-anchor="middle">verbindlich</text>
<path transform="translate(781.3,449.6)" d="M0.2,2.2 C1.7,-2 5.2,-3.2 8.2,-0.4 C10.7,2 13.2,2.8 14.9,-1.6" fill="none" stroke="#45243a" stroke-width="2.5"/>
</svg>
</body>
</html>
